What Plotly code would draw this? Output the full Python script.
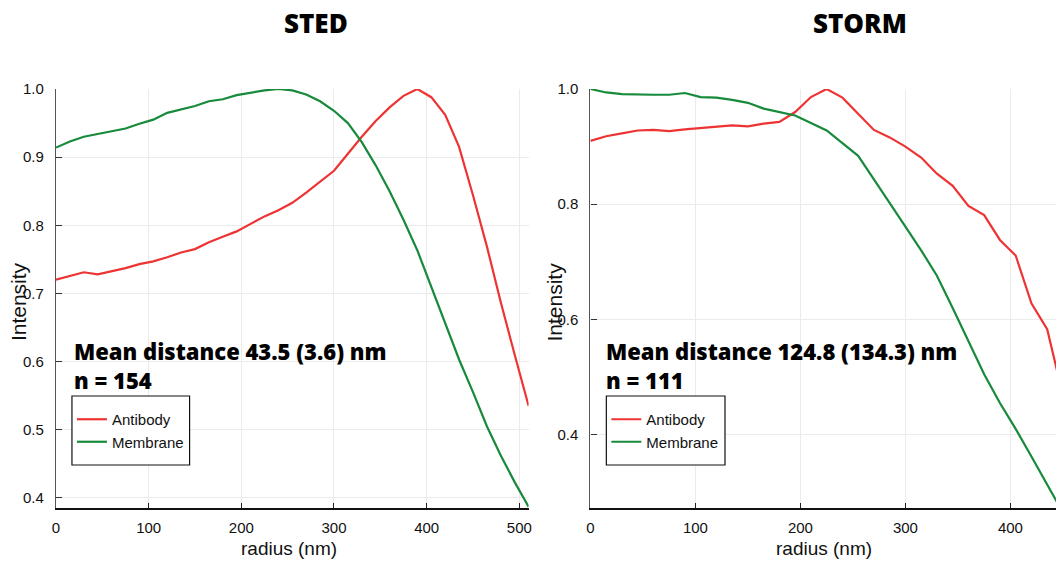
import plotly.graph_objects as go

# ---------------- data ----------------
radius_sted = [0, 15, 30, 45, 60, 75, 90, 105, 120, 135, 150, 165, 180, 195, 210, 225, 240,
               255, 270, 285, 300, 315, 330, 345, 360, 375, 390, 405, 420, 435, 450, 465,
               480, 495, 510]
sted_antibody = [0.720, 0.726, 0.731, 0.728, 0.732, 0.737, 0.743, 0.747, 0.753, 0.760, 0.765,
                 0.775, 0.783, 0.791, 0.802, 0.813, 0.822, 0.833, 0.848, 0.864, 0.880, 0.905,
                 0.930, 0.953, 0.973, 0.990, 1.000, 0.988, 0.962, 0.915, 0.844, 0.769, 0.687,
                 0.610, 0.535]
sted_membrane = [0.914, 0.923, 0.930, 0.934, 0.937, 0.942, 0.949, 0.955, 0.965, 0.970, 0.975,
                 0.982, 0.985, 0.991, 0.995, 0.998, 1.000, 0.998, 0.992, 0.982, 0.968, 0.950,
                 0.922, 0.888, 0.850, 0.808, 0.763, 0.710, 0.655, 0.603, 0.555, 0.505, 0.462,
                 0.423, 0.387]

radius_storm = [0, 15, 30, 45, 60, 75, 90, 105, 120, 135, 150, 165, 180, 195, 210, 225, 240,
                255, 270, 285, 300, 315, 330, 345, 360, 375, 390, 405, 420, 435, 450]
storm_antibody = [0.910, 0.918, 0.923, 0.928, 0.929, 0.927, 0.930, 0.932, 0.935, 0.937, 0.935,
                  0.940, 0.943, 0.960, 0.986, 1.000, 0.985, 0.957, 0.929, 0.916, 0.900, 0.881,
                  0.853, 0.832, 0.797, 0.781, 0.738, 0.711, 0.628, 0.583, 0.468]
storm_membrane = [1.000, 0.994, 0.991, 0.990, 0.990, 0.990, 0.993, 0.986, 0.985, 0.981, 0.976,
                  0.966, 0.960, 0.954, 0.941, 0.928, 0.906, 0.884, 0.843, 0.801, 0.761, 0.720,
                  0.676, 0.620, 0.562, 0.505, 0.455, 0.410, 0.362, 0.314, 0.265]

panel_titles = ["STED", "STORM"]
stats_text = ["Mean distance 43.5 (3.6) nm<br>n = 154",
              "Mean distance 124.8 (134.3) nm<br>n = 111"]
series_names = ["Antibody", "Membrane"]

# ---------------- style ----------------
RED = "#ee3333"
GREEN = "#178a3c"
NARROW = "Liberation Sans Narrow, Arial Narrow, Liberation Sans, sans-serif"
REG = "Liberation Sans, Arial, sans-serif"
BOLD = "Open Sans, Lato, sans-serif"

W, H = 1059, 561
ML, MR, MT, MB = 56, 0, 89, 53
PW = W - ML - MR
PH = H - MT - MB


def px(x):
    return (x - ML) / PW


def py(y):
    return (H - MB - y) / PH


fig = go.Figure()

fig.add_trace(go.Scatter(x=radius_sted, y=sted_antibody, mode="lines", name=series_names[0],
                         line=dict(color=RED, width=2.2), xaxis="x", yaxis="y", legend="legend"))
fig.add_trace(go.Scatter(x=radius_sted, y=sted_membrane, mode="lines", name=series_names[1],
                         line=dict(color=GREEN, width=2.2), xaxis="x", yaxis="y", legend="legend"))
fig.add_trace(go.Scatter(x=radius_storm, y=storm_antibody, mode="lines", name=series_names[0],
                         line=dict(color=RED, width=2.2), xaxis="x2", yaxis="y2", legend="legend2"))
fig.add_trace(go.Scatter(x=radius_storm, y=storm_membrane, mode="lines", name=series_names[1],
                         line=dict(color=GREEN, width=2.2), xaxis="x2", yaxis="y2", legend="legend2"))

tickfont = dict(family=NARROW, size=15, color="#111")
common_x = dict(showgrid=True, gridcolor="#ebebeb", gridwidth=1, zeroline=False,
                showline=True, linecolor="#111", linewidth=1.6, ticks="inside", ticklen=5,
                tickcolor="#222", tickwidth=1, tickfont=tickfont, ticklabelstandoff=5)
common_y = dict(showgrid=True, gridcolor="#ebebeb", gridwidth=1, zeroline=False,
                showline=True, linecolor="#555", linewidth=1.3, ticks="inside", ticklen=6,
                tickcolor="#333", tickwidth=1, tickfont=tickfont, tickformat=".1f",
                ticklabelstandoff=8)

x1_end = px(530)
x2_start = px(592)

legend_common = dict(xanchor="left", yanchor="top", borderwidth=0, bgcolor="rgba(0,0,0,0)",
                     font=dict(family=NARROW, size=15, color="#111"), tracegroupgap=0)

fig.update_layout(
    width=W, height=H,
    margin=dict(l=ML, r=MR, t=MT, b=MB, pad=0),
    paper_bgcolor="white", plot_bgcolor="white",
    xaxis=dict(domain=[0, x1_end], range=[0, 510], dtick=100, tick0=0, anchor="y", **common_x),
    yaxis=dict(domain=[0, 1], range=[0.385, 1.0], dtick=0.1, tick0=0, anchor="x", **common_y),
    xaxis2=dict(domain=[x2_start, 1], range=[0, 443.4], dtick=100, tick0=0, anchor="y2", **common_x),
    yaxis2=dict(domain=[0, 1], range=[0.2727, 1.0], dtick=0.2, tick0=0, anchor="x2", **common_y),
    legend=dict(x=px(72), y=py(403), **legend_common),
    legend2=dict(x=px(608), y=py(403), **legend_common),
    showlegend=True,
)

# legend frames
shapes = []
for x0, x1 in [(72, 190), (608, 727)]:
    shapes.append(dict(type="rect", xref="paper", yref="paper", x0=px(x0), x1=px(x1),
                       y0=py(465), y1=py(396), line=dict(color="#111", width=1.2),
                       fillcolor="white", layer="above"))
fig.update_layout(shapes=shapes)

annotations = []
# panel titles
for t, cx in zip(panel_titles, [317, 862]):
    annotations.append(dict(text=t, x=px(cx), y=py(23), xref="paper", yref="paper",
                            xanchor="center", yanchor="middle", showarrow=False,
                            font=dict(family=BOLD, size=26, color="black", weight=800)))
# stats text
for t, lx in zip(stats_text, [74, 608]):
    annotations.append(dict(text=t, x=px(lx - 2), y=py(365), xref="paper", yref="paper",
                            xanchor="left", yanchor="middle", align="left", showarrow=False,
                            font=dict(family=BOLD, size=22, color="black", weight=800)))
# axis titles
for cx in [290, 826]:
    annotations.append(dict(text="radius (nm)", x=px(cx), y=py(548), xref="paper", yref="paper",
                            xanchor="center", yanchor="middle", showarrow=False,
                            font=dict(family=NARROW, size=19, color="#111")))
for cx in [18, 555]:
    annotations.append(dict(text="Intensity", x=px(cx), y=py(302), xref="paper", yref="paper",
                            xanchor="center", yanchor="middle", showarrow=False, textangle=-90,
                            font=dict(family=REG, size=21, color="#111")))
fig.update_layout(annotations=annotations)

fig.write_html("out.html")
